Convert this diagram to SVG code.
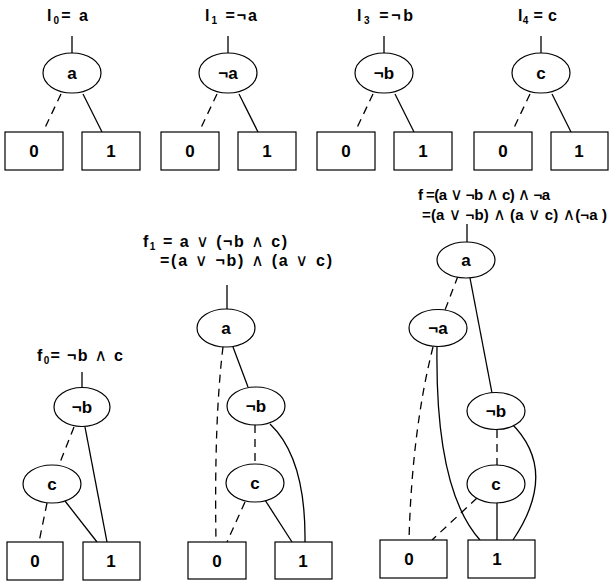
<svg xmlns="http://www.w3.org/2000/svg" width="611" height="583" viewBox="0 0 611 583">
<style>
.n{fill:#fff;stroke:#000;stroke-width:1.2}
.b{fill:#fff;stroke:#000;stroke-width:1.2}
.t{font-family:"Liberation Sans","DejaVu Sans",sans-serif;font-weight:bold;font-size:17px;fill:#000;text-anchor:middle}
.f{font-family:"Liberation Sans","DejaVu Sans",sans-serif;font-weight:bold;font-size:16px;fill:#000}
.g{font-size:15px}
.s{font-size:10px}
.o{font-family:"DejaVu Sans",sans-serif;font-weight:normal;font-size:17px}
.e{fill:none;stroke:#000;stroke-width:1.3}
.d{fill:none;stroke:#000;stroke-width:1.3;stroke-dasharray:8 6}
</style>
<rect width="611" height="583" fill="#fff"/>
<g id="labels">
<text class="f" x="47" y="21" textLength="41" lengthAdjust="spacing">l<tspan class="s" dy="3">0</tspan><tspan dy="-3">= a</tspan></text>
<text class="f" x="205" y="21" textLength="52" lengthAdjust="spacing">l<tspan class="s" dy="3">1</tspan><tspan dy="-3"> =¬a</tspan></text>
<text class="f" x="357" y="21" textLength="56" lengthAdjust="spacing">l<tspan class="s" dy="3">3</tspan><tspan dy="-3"> =¬b</tspan></text>
<text class="f" x="518" y="21" textLength="39" lengthAdjust="spacing">l<tspan class="s" dy="3">4</tspan><tspan dy="-3"> = c</tspan></text>
<text class="f" x="37" y="361" textLength="86" lengthAdjust="spacing">f<tspan class="s" dy="3">0</tspan><tspan dy="-3">= ¬b </tspan><tspan class="o">∧</tspan> c</text>
<text class="f" x="143" y="247" textLength="144" lengthAdjust="spacing">f<tspan class="s" dy="3">1</tspan><tspan dy="-3"> =  a </tspan><tspan class="o">∨</tspan> (¬b <tspan class="o">∧</tspan> c)</text>
<text class="f" x="160" y="266" textLength="172" lengthAdjust="spacing">=(a <tspan class="o">∨</tspan> ¬b) <tspan class="o">∧</tspan> (a <tspan class="o">∨</tspan> c)</text>
<text class="f g" x="418" y="200" textLength="132" lengthAdjust="spacing">f =(a <tspan class="o">∨</tspan> ¬b <tspan class="o">∧</tspan> c) <tspan class="o">∧</tspan> ¬a</text>
<text class="f g" x="422" y="220" textLength="185" lengthAdjust="spacing">=(a <tspan class="o">∨</tspan> ¬b) <tspan class="o">∧</tspan> (a <tspan class="o">∨</tspan> c) <tspan class="o">∧</tspan>(¬a )</text>
</g>
<g id="connectors">
<line class="e" x1="72" y1="36" x2="72" y2="53"/>
<line class="d" x1="61" y1="94" x2="43" y2="132"/>
<line class="e" x1="83" y1="94" x2="102" y2="132"/>
<line class="e" x1="228" y1="36" x2="228" y2="53"/>
<line class="d" x1="217" y1="94" x2="199" y2="132"/>
<line class="e" x1="239" y1="94" x2="258" y2="132"/>
<line class="e" x1="384" y1="36" x2="384" y2="53"/>
<line class="d" x1="373" y1="94" x2="355" y2="132"/>
<line class="e" x1="395" y1="94" x2="414" y2="132"/>
<line class="e" x1="541" y1="36" x2="541" y2="53"/>
<line class="d" x1="530" y1="94" x2="512" y2="132"/>
<line class="e" x1="552" y1="94" x2="571" y2="132"/>
<line class="e" x1="82" y1="372" x2="82" y2="388"/>
<line class="d" x1="74" y1="427" x2="59" y2="465"/>
<line class="e" x1="85" y1="427" x2="107" y2="542"/>
<line class="d" x1="47" y1="503" x2="39" y2="542"/>
<line class="e" x1="65" y1="501" x2="97" y2="542"/>
<line class="e" x1="227" y1="285" x2="227" y2="310"/>
<path class="d" d="M223,347 Q214,420 216,542"/>
<line class="e" x1="233" y1="347" x2="248" y2="387"/>
<line class="d" x1="255" y1="425" x2="255" y2="464"/>
<path class="e" d="M270,424 Q306,458 305,542"/>
<line class="d" x1="245" y1="502" x2="227" y2="542"/>
<line class="e" x1="265" y1="500" x2="292" y2="542"/>
<line class="e" x1="467" y1="224" x2="467" y2="242"/>
<line class="d" x1="458" y1="276" x2="445" y2="310"/>
<line class="e" x1="470" y1="278" x2="492" y2="393"/>
<path class="d" d="M433,347 Q412,430 409,540"/>
<path class="e" d="M437,347 Q435,490 480,540"/>
<line class="d" x1="497" y1="430" x2="497" y2="465"/>
<path class="e" d="M510,422 Q560,470 513,540"/>
<line class="d" x1="477" y1="498" x2="432" y2="540"/>
<line class="e" x1="497" y1="503" x2="497" y2="540"/>
</g>
<g id="n-l0-a"><ellipse class="n" cx="72" cy="73" rx="29" ry="20"/><text class="t" x="72" y="79">a</text></g>
<g id="n-l0-0"><rect class="b" x="5" y="132" width="58" height="38"/><text class="t" x="34" y="157">0</text></g>
<g id="n-l0-1"><rect class="b" x="82" y="132" width="58" height="38"/><text class="t" x="111" y="157">1</text></g>
<g id="n-l1-a"><ellipse class="n" cx="228" cy="73" rx="29" ry="20"/><text class="t" x="228" y="79">¬a</text></g>
<g id="n-l1-0"><rect class="b" x="161" y="132" width="58" height="38"/><text class="t" x="190" y="157">0</text></g>
<g id="n-l1-1"><rect class="b" x="238" y="132" width="58" height="38"/><text class="t" x="267" y="157">1</text></g>
<g id="n-l3-b"><ellipse class="n" cx="384" cy="73" rx="29" ry="20"/><text class="t" x="384" y="79">¬b</text></g>
<g id="n-l3-0"><rect class="b" x="317" y="132" width="58" height="38"/><text class="t" x="346" y="157">0</text></g>
<g id="n-l3-1"><rect class="b" x="394" y="132" width="58" height="38"/><text class="t" x="423" y="157">1</text></g>
<g id="n-l4-c"><ellipse class="n" cx="541" cy="73" rx="29" ry="20"/><text class="t" x="541" y="79">c</text></g>
<g id="n-l4-0"><rect class="b" x="474" y="132" width="58" height="38"/><text class="t" x="503" y="157">0</text></g>
<g id="n-l4-1"><rect class="b" x="551" y="132" width="57" height="38"/><text class="t" x="579" y="157">1</text></g>
<g id="n-f0-b"><ellipse class="n" cx="82" cy="407" rx="28" ry="19.5"/><text class="t" x="82" y="413">¬b</text></g>
<g id="n-f0-c"><ellipse class="n" cx="52" cy="484" rx="29" ry="19"/><text class="t" x="52" y="490">c</text></g>
<g id="n-f0-0"><rect class="b" x="7" y="542" width="56" height="38"/><text class="t" x="35" y="567">0</text></g>
<g id="n-f0-1"><rect class="b" x="83" y="542" width="57" height="38"/><text class="t" x="111" y="567">1</text></g>
<g id="n-f1-a"><ellipse class="n" cx="226" cy="328" rx="29" ry="19"/><text class="t" x="226" y="334">a</text></g>
<g id="n-f1-b"><ellipse class="n" cx="256" cy="406" rx="29" ry="19"/><text class="t" x="256" y="412">¬b</text></g>
<g id="n-f1-c"><ellipse class="n" cx="255" cy="483" rx="29" ry="19"/><text class="t" x="255" y="489">c</text></g>
<g id="n-f1-0"><rect class="b" x="188" y="542" width="58" height="37"/><text class="t" x="217" y="567">0</text></g>
<g id="n-f1-1"><rect class="b" x="275" y="542" width="57" height="37"/><text class="t" x="303" y="567">1</text></g>
<g id="n-f-a"><ellipse class="n" cx="466" cy="260" rx="29" ry="18"/><text class="t" x="466" y="266">a</text></g>
<g id="n-f-na"><ellipse class="n" cx="438" cy="328" rx="29" ry="18.5"/><text class="t" x="438" y="334">¬a</text></g>
<g id="n-f-b"><ellipse class="n" cx="496" cy="411" rx="29" ry="18.5"/><text class="t" x="496" y="417">¬b</text></g>
<g id="n-f-c"><ellipse class="n" cx="496" cy="484" rx="29" ry="19"/><text class="t" x="496" y="490">c</text></g>
<g id="n-f-0"><rect class="b" x="380" y="540" width="67" height="38"/><text class="t" x="409" y="565">0</text></g>
<g id="n-f-1"><rect class="b" x="468" y="540" width="67" height="38"/><text class="t" x="497" y="565">1</text></g>
</svg>
